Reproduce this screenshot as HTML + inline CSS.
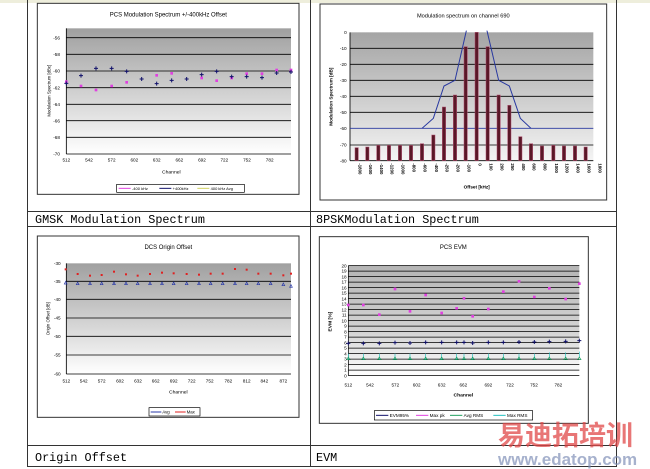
<!DOCTYPE html>
<html><head><meta charset="utf-8"><style>
body{margin:0;background:#fff;width:650px;height:469px;overflow:hidden}
svg{display:block}
.t{font-family:"Liberation Sans",sans-serif;fill:#000}
.c{font-family:"Liberation Mono","Noto Sans CJK SC",monospace;font-size:11.8px;fill:#000}
</style></head><body>
<svg width="650" height="469" viewBox="0 0 650 469" xmlns="http://www.w3.org/2000/svg">
<defs>
<linearGradient id="g1" x1="0" y1="0" x2="0" y2="1"><stop offset="0" stop-color="#a0a0a0"/><stop offset="1" stop-color="#ffffff"/></linearGradient>
<linearGradient id="g2" x1="0" y1="0" x2="0" y2="1"><stop offset="0" stop-color="#a4a4a4"/><stop offset="1" stop-color="#f4f4f4"/></linearGradient>
<linearGradient id="g4" x1="0" y1="0" x2="0" y2="1"><stop offset="0" stop-color="#b4b4b4"/><stop offset="0.6" stop-color="#d4d4d4"/><stop offset="1" stop-color="#ffffff"/></linearGradient>
<clipPath id="cp2"><rect x="120" y="92" width="730" height="390"/></clipPath>
</defs>
<rect x="0" y="0" width="650" height="3" fill="#eeeedc"/>
<g stroke="#333" stroke-width="1" fill="none">
<line x1="27.5" y1="0" x2="27.5" y2="467"/>
<line x1="310.5" y1="0" x2="310.5" y2="467"/>
<line x1="616.5" y1="0" x2="616.5" y2="467"/>
<line x1="27" y1="211.5" x2="617" y2="211.5"/>
<line x1="27" y1="226.5" x2="617" y2="226.5"/>
<line x1="27" y1="445.5" x2="617" y2="445.5"/>
<line x1="27" y1="466.5" x2="617" y2="466.5"/>
</g>
<text class="c" x="35" y="223">GMSK Modulation Spectrum</text>
<text class="c" x="316" y="223">8PSKModulation Spectrum</text>
<text class="c" x="35" y="461">Origin Offset</text>
<text class="c" x="316" y="461">EVM</text>

<g transform="scale(0.33333)">
<rect x="112" y="10" width="785" height="573" fill="#fff" stroke="#333" stroke-width="3"/>
<rect x="199" y="85" width="674" height="377" fill="url(#g1)"/>
<g stroke="#000" stroke-width="2.5">
<line x1="199" y1="113" x2="873" y2="113"/><line x1="199" y1="163" x2="873" y2="163"/>
<line x1="199" y1="213" x2="873" y2="213"/><line x1="199" y1="263" x2="873" y2="263"/>
<line x1="199" y1="313" x2="873" y2="313"/><line x1="199" y1="362" x2="873" y2="362"/>
<line x1="199" y1="412" x2="873" y2="412"/><line x1="199" y1="462" x2="873" y2="462"/>
<line x1="199" y1="85" x2="199" y2="462"/>
</g>
<text class="t" x="505" y="50" font-size="18" text-anchor="middle">PCS Modulation Spectrum +/-400kHz Offset</text>
<g class="t" font-size="14" text-anchor="end">
<text x="180" y="118">-56</text><text x="180" y="168">-58</text><text x="180" y="218">-60</text><text x="180" y="268">-62</text>
<text x="180" y="318">-64</text><text x="180" y="367">-66</text><text x="180" y="417">-68</text><text x="180" y="467">-70</text>
</g>
<g class="t" font-size="14" text-anchor="middle">
<text x="199" y="485">512</text><text x="267" y="485">542</text><text x="335" y="485">572</text><text x="403" y="485">602</text>
<text x="470" y="485">632</text><text x="538" y="485">662</text><text x="606" y="485">692</text><text x="673" y="485">722</text>
<text x="741" y="485">752</text><text x="809" y="485">782</text>
<text x="514" y="521" font-size="15">Channel</text>
</g>
<text class="t" font-size="13" transform="translate(152,272) rotate(-90)" text-anchor="middle">Modulation Spectrum [dBc]</text>
<g fill="#e040e0">
<rect x="195" y="241" width="8" height="8"/><rect x="239" y="254" width="8" height="8"/><rect x="284" y="266" width="8" height="8"/>
<rect x="331" y="254" width="8" height="8"/><rect x="376" y="243" width="8" height="8"/><rect x="466" y="222" width="8" height="8"/>
<rect x="511" y="216" width="8" height="8"/><rect x="601" y="230" width="8" height="8"/><rect x="646" y="238" width="8" height="8"/>
<rect x="691" y="230" width="8" height="8"/><rect x="736" y="217" width="8" height="8"/><rect x="782" y="217" width="8" height="8"/>
<rect x="826" y="206" width="8" height="8"/><rect x="869" y="206" width="8" height="8"/>
</g>
<g stroke="#10106a" stroke-width="3">
<path d="M193 250h12M199 244v12M237 227h12M243 221v12M282 205h12M288 199v12M329 205h12M335 199v12M374 214h12M380 208v12M419 237h12M425 231v12M464 251h12M470 245v12M509 241h12M515 235v12M554 237h12M560 231v12M599 224h12M605 218v12M644 214h12M650 208v12M689 230h12M695 224v12M734 230h12M740 224v12M780 233h12M786 227v12M824 219h12M830 213v12M867 216h12M873 210v12"/>
</g>
<rect x="350" y="553" width="383" height="24" fill="#fff" stroke="#000" stroke-width="2"/>
<line x1="356" y1="565" x2="392" y2="565" stroke="#e040e0" stroke-width="3"/>
<line x1="478" y1="565" x2="514" y2="565" stroke="#10106a" stroke-width="3"/>
<line x1="592" y1="565" x2="628" y2="565" stroke="#d0d060" stroke-width="3"/>
<g class="t" font-size="12"><text x="396" y="570">-400 kHz</text><text x="518" y="570">+400kHz</text><text x="632" y="570">400 kHz Avg</text></g>
</g>

<g transform="translate(310,0) scale(0.33333)">
<rect x="30" y="12" width="860" height="588" fill="#fff" stroke="#333" stroke-width="3"/>
<rect x="120" y="97" width="730" height="385" fill="url(#g2)"/>
<g stroke="#000" stroke-width="2.5">
<line x1="120" y1="145" x2="850" y2="145"/><line x1="120" y1="193" x2="850" y2="193"/>
<line x1="120" y1="241" x2="850" y2="241"/><line x1="120" y1="289" x2="850" y2="289"/>
<line x1="120" y1="337" x2="850" y2="337"/><line x1="120" y1="435" x2="850" y2="435"/>
<line x1="120" y1="482" x2="850" y2="482"/><line x1="120" y1="97" x2="120" y2="482"/>
</g>
<line x1="120" y1="385" x2="850" y2="385" stroke="#2838a0" stroke-width="2.5"/>
<text class="t" x="460" y="53" font-size="17" text-anchor="middle">Modulation spectrum on channel 690</text>
<g class="t" font-size="14" text-anchor="end">
<text x="110" y="102">0</text><text x="110" y="150">-10</text><text x="110" y="198">-20</text><text x="110" y="246">-30</text>
<text x="110" y="294">-40</text><text x="110" y="342">-50</text><text x="110" y="390">-60</text><text x="110" y="440">-70</text><text x="110" y="487">-80</text>
</g>
<text class="t" font-size="14" font-weight="bold" transform="translate(68,290) rotate(-90)" text-anchor="middle">Modulation Spectrum [dB]</text>
<g fill="#5a1828" stroke="#b05070" stroke-width="1.5">
<rect x="135" y="443" width="10" height="39"/><rect x="167" y="441" width="10" height="41"/><rect x="200" y="436" width="10" height="46"/>
<rect x="232" y="436" width="10" height="46"/><rect x="265" y="436" width="10" height="46"/><rect x="298" y="436" width="10" height="46"/>
<rect x="331" y="431" width="10" height="51"/><rect x="365" y="405" width="10" height="77"/><rect x="397" y="321" width="10" height="161"/>
<rect x="430" y="285" width="10" height="197"/><rect x="462" y="140" width="10" height="342"/><rect x="495" y="97" width="10" height="385"/>
<rect x="528" y="140" width="10" height="342"/><rect x="561" y="285" width="10" height="197"/><rect x="593" y="316" width="10" height="166"/>
<rect x="626" y="410" width="10" height="72"/><rect x="658" y="431" width="10" height="51"/><rect x="691" y="438" width="10" height="44"/>
<rect x="725" y="436" width="10" height="46"/><rect x="757" y="438" width="10" height="44"/><rect x="790" y="438" width="10" height="44"/>
<rect x="822" y="441" width="10" height="41"/>
</g>
<polyline clip-path="url(#cp2)" fill="none" stroke="#2838a0" stroke-width="3" points="336,385 370,355 402,258 435,241 470,88 530,88 566,241 598,258 631,355 663,385"/>
<g class="t" font-size="13" font-weight="bold">
<text transform="translate(145,490) rotate(90)">-1800</text><text transform="translate(177,490) rotate(90)">-1600</text>
<text transform="translate(210,490) rotate(90)">-1400</text><text transform="translate(242,490) rotate(90)">-1200</text>
<text transform="translate(275,490) rotate(90)">-1000</text><text transform="translate(308,490) rotate(90)">-800</text>
<text transform="translate(341,490) rotate(90)">-600</text><text transform="translate(375,490) rotate(90)">-400</text>
<text transform="translate(407,490) rotate(90)">-250</text><text transform="translate(440,490) rotate(90)">-200</text>
<text transform="translate(472,490) rotate(90)">-100</text><text transform="translate(505,490) rotate(90)">0</text>
<text transform="translate(538,490) rotate(90)">100</text><text transform="translate(571,490) rotate(90)">200</text>
<text transform="translate(603,490) rotate(90)">250</text><text transform="translate(636,490) rotate(90)">400</text>
<text transform="translate(668,490) rotate(90)">600</text><text transform="translate(701,490) rotate(90)">800</text>
<text transform="translate(735,490) rotate(90)">1000</text><text transform="translate(767,490) rotate(90)">1200</text>
<text transform="translate(800,490) rotate(90)">1400</text><text transform="translate(832,490) rotate(90)">1600</text>
<text transform="translate(865,490) rotate(90)">1800</text>
</g>
<text class="t" x="500" y="565" font-size="14" font-weight="bold" text-anchor="middle">Offset [kHz]</text>
</g>

<g transform="translate(0,235) scale(0.33333)">
<rect x="112" y="3" width="785" height="544" fill="#fff" stroke="#333" stroke-width="3"/>
<rect x="199" y="85" width="674" height="332" fill="url(#g1)"/>
<g stroke="#000" stroke-width="2.5">
<line x1="199" y1="139" x2="873" y2="139"/><line x1="199" y1="193" x2="873" y2="193"/>
<line x1="199" y1="249" x2="873" y2="249"/><line x1="199" y1="304" x2="873" y2="304"/>
<line x1="199" y1="360" x2="873" y2="360"/><line x1="199" y1="417" x2="873" y2="417"/>
<line x1="199" y1="85" x2="199" y2="417"/>
</g>
<text class="t" x="505" y="42" font-size="18" text-anchor="middle">DCS Origin Offset</text>
<g class="t" font-size="14" text-anchor="end">
<text x="182" y="90">-30</text><text x="182" y="144">-35</text><text x="182" y="198">-40</text><text x="182" y="254">-45</text>
<text x="182" y="309">-50</text><text x="182" y="365">-55</text><text x="182" y="422">-60</text>
</g>
<text class="t" font-size="13" transform="translate(148,251) rotate(-90)" text-anchor="middle">Origin Offset [dB]</text>
<g class="t" font-size="14" text-anchor="middle">
<text x="199" y="442">512</text><text x="251" y="442">542</text><text x="305" y="442">572</text><text x="360" y="442">602</text>
<text x="414" y="442">632</text><text x="467" y="442">662</text><text x="521" y="442">692</text><text x="575" y="442">722</text>
<text x="629" y="442">752</text><text x="685" y="442">782</text><text x="740" y="442">812</text><text x="793" y="442">842</text>
<text x="850" y="442">872</text>
<text x="535" y="476" font-size="15">Channel</text>
</g>
<g fill="#e02020">
<rect x="194" y="100" width="6" height="6"/><rect x="230" y="114" width="6" height="6"/><rect x="267" y="119" width="6" height="6"/>
<rect x="302" y="117" width="6" height="6"/><rect x="339" y="107" width="6" height="6"/><rect x="375" y="115" width="6" height="6"/>
<rect x="410" y="119" width="6" height="6"/><rect x="447" y="114" width="6" height="6"/><rect x="483" y="110" width="6" height="6"/>
<rect x="518" y="112" width="6" height="6"/><rect x="557" y="114" width="6" height="6"/><rect x="594" y="116" width="6" height="6"/>
<rect x="629" y="113" width="6" height="6"/><rect x="665" y="113" width="6" height="6"/><rect x="702" y="99" width="6" height="6"/>
<rect x="737" y="101" width="6" height="6"/><rect x="772" y="113" width="6" height="6"/><rect x="809" y="113" width="6" height="6"/>
<rect x="847" y="118" width="6" height="6"/><rect x="870" y="113" width="6" height="6"/>
</g>
<g fill="none" stroke="#2838a8" stroke-width="2">
<path d="M197 139l4 8h-8z M233 141l4 8h-8z M270 141l4 8h-8z M305 141l4 8h-8z M342 141l4 8h-8z M378 141l4 8h-8z M413 141l4 8h-8z M450 141l4 8h-8z M486 141l4 8h-8z M521 141l4 8h-8z M560 141l4 8h-8z M597 141l4 8h-8z M632 141l4 8h-8z M668 141l4 8h-8z M705 141l4 8h-8z M740 141l4 8h-8z M775 141l4 8h-8z M812 141l4 8h-8z M850 144l4 8h-8z M873 149l4 8h-8z"/>
</g>
<rect x="447" y="518" width="153" height="25" fill="#fff" stroke="#000" stroke-width="2"/>
<line x1="452" y1="531" x2="484" y2="531" stroke="#2838a8" stroke-width="3"/>
<line x1="525" y1="531" x2="557" y2="531" stroke="#e02020" stroke-width="3"/>
<g class="t" font-size="13"><text x="487" y="536">Avg</text><text x="560" y="536">Max</text></g>
</g>

<g transform="translate(310,235) scale(0.33333)">
<rect x="28" y="5" width="807" height="560" fill="#fff" stroke="#333" stroke-width="3"/>
<rect x="115" y="92" width="693" height="330" fill="url(#g4)"/>
<g stroke="#000" stroke-width="2.2">
<path d="M115 92H808M115 108.5H808M115 125H808M115 141.5H808M115 158H808M115 174.5H808M115 191H808M115 207.5H808M115 224H808M115 240.5H808M115 257H808M115 273.5H808M115 290H808M115 306.5H808M115 323H808M115 339.5H808M115 356H808M115 372.5H808M115 389H808M115 405.5H808M115 422H808M115 92V422"/>
</g>
<text class="t" x="430" y="42" font-size="18" text-anchor="middle">PCS EVM</text>
<g class="t" font-size="14" text-anchor="end">
<text x="110" y="97">20</text><text x="110" y="113">19</text><text x="110" y="130">18</text><text x="110" y="146">17</text><text x="110" y="163">16</text>
<text x="110" y="179">15</text><text x="110" y="196">14</text><text x="110" y="212">13</text><text x="110" y="229">12</text><text x="110" y="245">11</text>
<text x="110" y="262">10</text><text x="110" y="278">9</text><text x="110" y="295">8</text><text x="110" y="311">7</text><text x="110" y="328">6</text>
<text x="110" y="344">5</text><text x="110" y="361">4</text><text x="110" y="377">3</text><text x="110" y="394">2</text><text x="110" y="410">1</text><text x="110" y="427">0</text>
</g>
<text class="t" font-size="15" font-weight="bold" transform="translate(65,260) rotate(-90)" text-anchor="middle">EVM [%]</text>
<g class="t" font-size="14" text-anchor="middle">
<text x="115" y="455">512</text><text x="180" y="455">542</text><text x="256" y="455">572</text><text x="320" y="455">602</text>
<text x="395" y="455">632</text><text x="460" y="455">662</text><text x="535" y="455">692</text><text x="600" y="455">722</text>
<text x="672" y="455">752</text><text x="745" y="455">782</text>
<text x="460" y="484" font-size="15" font-weight="bold">Channel</text>
</g>
<g fill="#e040e0">
<rect x="111" y="206" width="8" height="8"/><rect x="156" y="206" width="8" height="8"/><rect x="204" y="235" width="8" height="8"/>
<rect x="251" y="158" width="8" height="8"/><rect x="296" y="225" width="8" height="8"/><rect x="343" y="176" width="8" height="8"/>
<rect x="391" y="230" width="8" height="8"/><rect x="436" y="216" width="8" height="8"/><rect x="458" y="186" width="8" height="8"/>
<rect x="484" y="240" width="8" height="8"/><rect x="531" y="218" width="8" height="8"/><rect x="576" y="166" width="8" height="8"/>
<rect x="623" y="135" width="8" height="8"/><rect x="669" y="182" width="8" height="8"/><rect x="714" y="156" width="8" height="8"/>
<rect x="763" y="188" width="8" height="8"/><rect x="804" y="142" width="8" height="8"/>
</g>
<g stroke="#20c0c0" stroke-width="2" fill="none">
<path d="M115 356v18M160 356v18M208 356v18M255 356v18M300 356v18M347 356v18M395 356v18M440 356v18M462 356v18M488 356v18M535 356v18M580 356v18M627 356v18M673 356v18M718 352v18M767 352v18M808 350v18"/>
</g>
<g stroke="#20a060" stroke-width="2" fill="none">
<path d="M115 366l5 8h-10z M160 366l5 8h-10z M208 366l5 8h-10z M255 366l5 8h-10z M300 366l5 8h-10z M347 366l5 8h-10z M395 366l5 8h-10z M440 366l5 8h-10z M462 366l5 8h-10z M488 366l5 8h-10z M535 366l5 8h-10z M580 366l5 8h-10z M627 366l5 8h-10z M673 366l5 8h-10z M718 366l5 8h-10z M767 366l5 8h-10z M808 366l5 8h-10z"/>
</g>
<g stroke="#10106a" stroke-width="3">
<path d="M109 325h12M115 319v12M154 325h12M160 319v12M202 325h12M208 319v12M249 323h12M255 317v12M294 324h12M300 318v12M341 322h12M347 316v12M389 322h12M395 316v12M434 322h12M440 316v12M456 322h12M462 316v12M482 324h12M488 318v12M529 322h12M535 316v12M574 322h12M580 316v12M621 321h12M627 315v12M667 321h12M673 315v12M712 320h12M718 314v12M761 319h12M767 313v12M802 317h12M808 311v12"/>
</g>
<rect x="193" y="527" width="475" height="28" fill="#fff" stroke="#000" stroke-width="2"/>
<line x1="198" y1="541" x2="235" y2="541" stroke="#10106a" stroke-width="3"/>
<line x1="318" y1="541" x2="355" y2="541" stroke="#e040e0" stroke-width="3"/>
<line x1="420" y1="541" x2="457" y2="541" stroke="#20a060" stroke-width="3"/>
<line x1="550" y1="541" x2="587" y2="541" stroke="#20c0c0" stroke-width="3"/>
<g class="t" font-size="14"><text x="239" y="546">EVM95%</text><text x="359" y="546">Max pk</text><text x="461" y="546">Avg RMS</text><text x="591" y="546">Max RMS</text></g>
</g>

<text x="498" y="445" font-family="'Noto Sans CJK SC',sans-serif" font-size="27" font-weight="bold" fill="#e04848" fill-opacity="0.75">易迪拓培训</text>
<text x="498" y="465" font-family="'Liberation Sans',sans-serif" font-size="17" font-weight="bold" fill="#8090b8" fill-opacity="0.7">www.edatop.com</text>
</svg>
</body></html>
